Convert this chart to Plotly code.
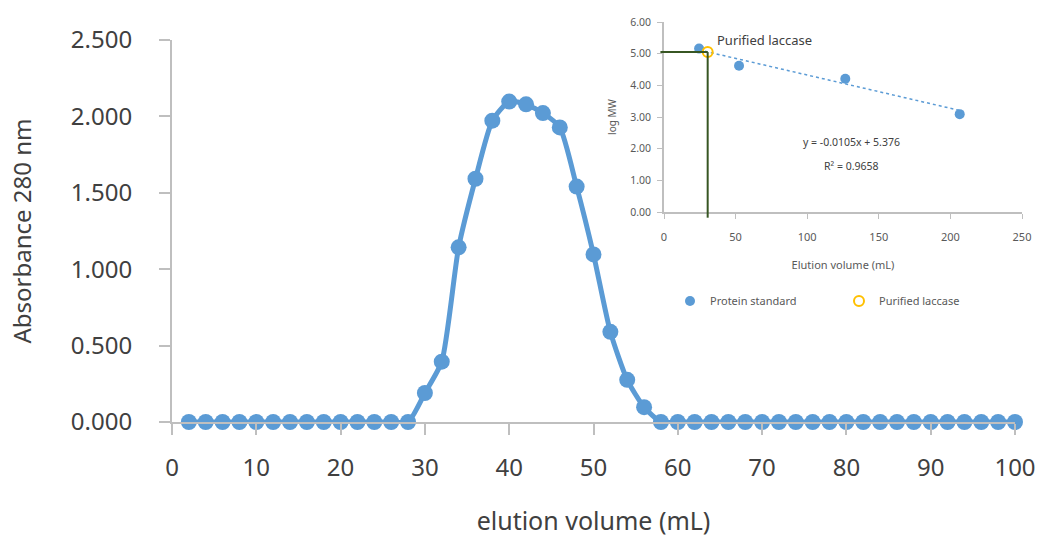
import plotly.graph_objects as go

# Elution profile (Absorbance at 280 nm per 2 mL fraction)
elution_ml = list(range(2, 101, 2))
absorbance = (
    [0.0] * 14
    + [0.19, 0.395, 1.143, 1.592, 1.972, 2.097, 2.079, 2.022, 1.928,
       1.541, 1.097, 0.59, 0.276, 0.097]
    + [0.0] * 22
)

# Calibration: protein standards (elution volume vs log MW)
std_volume = [24.5, 52.4, 126.6, 206.5]
std_logmw = [5.16, 4.62, 4.21, 3.09]

# Purified laccase
lac_volume = [30.5]
lac_logmw = [5.05]

# Linear fit of the standards
fit_slope = -0.0105
fit_intercept = 5.376
fit_r2 = 0.9658

main_y_ticks = [0, 0.5, 1.0, 1.5, 2.0, 2.5]
main_x_ticks = list(range(0, 101, 10))
inset_x_ticks = [0, 50, 100, 150, 200, 250]
inset_y_ticks = [0, 1, 2, 3, 4, 5, 6]

BLUE = "#5B9BD5"
ORANGE = "#FFC000"
GREEN = "#375623"
AXIS = "#BFBFBF"
TEXT = "#595959"
FONT = "Noto Sans"

W, H = 1038, 537

fig = go.Figure()

fig.add_trace(go.Scatter(
    x=elution_ml, y=absorbance, mode="lines+markers",
    line=dict(color=BLUE, width=5, shape="spline", smoothing=0.6),
    marker=dict(color=BLUE, size=16),
    cliponaxis=False, showlegend=False, xaxis="x", yaxis="y",
))

fit_x = [min(std_volume), max(std_volume)]
fit_y = [fit_slope * v + fit_intercept for v in fit_x]
fig.add_trace(go.Scatter(
    x=fit_x, y=fit_y, mode="lines",
    line=dict(color=BLUE, width=1.5, dash="dot"),
    showlegend=False, xaxis="x2", yaxis="y2",
))
fig.add_trace(go.Scatter(
    x=std_volume, y=std_logmw, mode="markers", name="Protein standard",
    marker=dict(color=BLUE, size=10),
    cliponaxis=False, xaxis="x2", yaxis="y2",
))
fig.add_trace(go.Scatter(
    x=lac_volume, y=lac_logmw, mode="markers", name="Purified laccase",
    marker=dict(color="rgba(0,0,0,0)", size=10, line=dict(color=ORANGE, width=2)),
    cliponaxis=False, xaxis="x2", yaxis="y2",
))

# Guide lines from the laccase point to both inset axes
inset_xr = [0, 250]
inset_yr = [0, 6]
fx = (lac_volume[0] - inset_xr[0]) / (inset_xr[1] - inset_xr[0])
fy = (lac_logmw[0] - inset_yr[0]) / (inset_yr[1] - inset_yr[0])
shapes = [
    dict(type="line", xref="x2 domain", yref="y2 domain",
         x0=-0.01, x1=fx, y0=fy, y1=fy, line=dict(color=GREEN, width=2)),
    dict(type="line", xref="x2 domain", yref="y2 domain",
         x0=fx, x1=fx, y0=-0.03, y1=fy, line=dict(color=GREEN, width=2)),
]

annotations = [
    dict(text="Purified laccase", x=35.5, y=5.42, xref="x2", yref="y2",
         xanchor="left", yanchor="middle", showarrow=False,
         font=dict(family=FONT, size=13, color="#404040")),
    dict(text=f"y = {fit_slope}x + {fit_intercept}", x=131, y=2.21,
         xref="x2", yref="y2", showarrow=False,
         font=dict(family=FONT, size=10.5, color="#404040")),
    dict(text=f"R² = {fit_r2}", x=131, y=1.45, xref="x2", yref="y2",
         showarrow=False, font=dict(family=FONT, size=10.5, color="#404040")),
]

fig.update_layout(
    width=W, height=H,
    margin=dict(l=0, r=0, t=0, b=0, autoexpand=False),
    paper_bgcolor="white", plot_bgcolor="rgba(0,0,0,0)",
    font=dict(family=FONT, color=TEXT),
    shapes=shapes, annotations=annotations,
    xaxis=dict(
        domain=[172 / W, 1015 / W], range=[0, 100], automargin=False,
        tickvals=main_x_ticks, ticks="outside", ticklen=11, tickwidth=2,
        tickcolor=AXIS, showline=True, linecolor=AXIS, linewidth=2,
        showgrid=False, zeroline=False,
        tickfont=dict(size=24, color="#404040"), ticklabelstandoff=12,
        title=dict(text="elution volume (mL)", standoff=36,
                   font=dict(size=25, color="#404040")),
    ),
    yaxis=dict(
        domain=[1 - 422 / H, 1 - 40 / H], range=[0, 2.5], automargin=False,
        tickvals=main_y_ticks, tickformat=".3f", ticks="outside", ticklen=11,
        tickwidth=2, tickcolor=AXIS, showline=True, linecolor=AXIS,
        linewidth=2, showgrid=False, zeroline=False,
        tickfont=dict(size=24, color="#404040"), ticklabelstandoff=22,
        title=dict(text="Absorbance 280 nm", standoff=32,
                   font=dict(size=24, color="#404040")),
    ),
    xaxis2=dict(
        domain=[664 / W, 1022 / W], range=inset_xr, anchor="y2",
        automargin=False,
        tickvals=inset_x_ticks, ticks="outside", ticklen=5, tickcolor=AXIS,
        showline=True, linecolor=AXIS, linewidth=1.5, showgrid=False,
        zeroline=False, tickfont=dict(size=11, color=TEXT),
        ticklabelstandoff=9,
        title=dict(text="Elution volume (mL)", standoff=18,
                   font=dict(size=11, color=TEXT)),
    ),
    yaxis2=dict(
        domain=[1 - 212 / H, 1 - 22 / H], range=inset_yr, anchor="x2",
        automargin=False,
        tickvals=inset_y_ticks, tickformat=".2f", ticks="outside", ticklen=5,
        tickcolor=AXIS, showline=True, linecolor=AXIS, linewidth=1.5,
        showgrid=False, zeroline=False, tickfont=dict(size=10.5, color=TEXT),
        ticklabelstandoff=4,
        title=dict(text="log MW", standoff=12, font=dict(size=10, color=TEXT)),
    ),
    legend=dict(
        orientation="h", x=670 / W, y=1 - 301 / H, xanchor="left",
        yanchor="middle", bgcolor="rgba(0,0,0,0)",
        font=dict(size=11, color=TEXT), entrywidth=124,
        entrywidthmode="pixels",
    ),
)

fig.write_html("out.html")
